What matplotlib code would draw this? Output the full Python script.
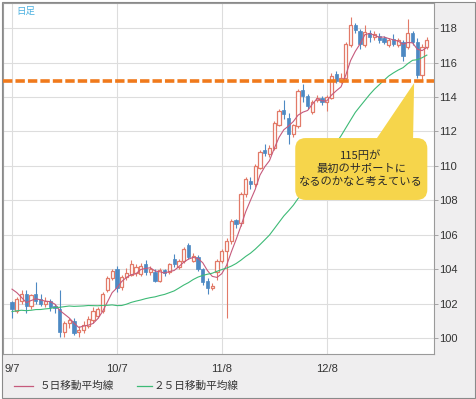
import numpy as np
import pandas as pd
import matplotlib
matplotlib.use('Agg')
import matplotlib.pyplot as plt
from matplotlib.patches import FancyBboxPatch, Polygon, Rectangle
from matplotlib.lines import Line2D

plt.rcParams['font.family'] = ['Liberation Sans', 'Noto Sans CJK JP', 'DejaVu Sans']

# daily USD/JPY candles, 9/7 .. early January
opens = [102.1, 101.6, 102.2, 102.6, 101.9, 102.6, 102.3, 102.0, 102.2, 101.9,
         101.7, 100.4, 100.9, 101.0, 100.35, 100.5, 100.75, 101.05, 101.3, 101.6,
         102.8, 103.5, 104.0, 103.0, 103.55, 103.7, 103.8, 103.75, 104.3, 103.85,
         103.85, 103.35, 103.95, 103.85, 104.6, 104.15, 104.5, 105.4, 104.5, 104.7,
         104.0, 103.35, 102.95, 103.85, 104.5, 105.1, 105.65, 106.85, 106.7, 108.35,
         109.15, 108.95, 109.9, 110.9, 110.7, 111.05, 112.4, 113.25, 112.8, 111.85,
         112.3, 114.4, 114.05, 113.15, 113.8, 113.95, 113.7, 113.95, 115.35, 114.9,
         115.1, 117.0, 118.15, 117.85, 117.0, 117.7, 117.5, 117.55, 117.4, 117.0,
         117.35, 117.0, 117.2, 116.9, 117.7, 117.2, 115.3, 116.9]
highs = [102.2, 102.4, 102.8, 102.8, 102.6, 103.3, 102.6, 102.4, 102.3, 102.0,
         102.8, 101.0, 101.2, 101.2, 100.7, 101.0, 101.3, 101.8, 101.8, 102.7,
         103.6, 104.0, 104.2, 103.7, 104.1, 104.55, 104.3, 104.4, 104.55, 104.2,
         104.0, 104.1, 104.05, 104.4, 104.9, 104.6, 105.3, 105.55, 104.95, 104.85,
         104.1, 103.5, 103.2, 104.6, 105.2, 105.8, 106.9, 106.95, 108.5, 109.35,
         109.35, 110.1, 110.95, 111.3, 111.2, 112.6, 113.3, 113.8, 113.1, 112.45,
         114.45, 114.75, 114.2, 113.8, 114.1, 114.05, 114.1, 115.4, 115.5, 115.4,
         117.2, 118.65, 118.3, 117.95, 118.15, 117.9, 117.85, 117.7, 117.55, 117.4,
         117.65, 117.4, 117.3, 118.55, 117.85, 117.4, 117.1, 117.45]
lows = [101.2, 101.5, 102.0, 101.5, 101.7, 102.0, 101.9, 101.8, 101.6, 101.5,
        100.1, 100.1, 100.6, 100.2, 100.1, 100.3, 100.6, 100.9, 101.2, 101.5,
        102.7, 103.4, 102.7, 102.8, 103.4, 103.6, 103.6, 103.6, 103.7, 103.7,
        103.25, 103.3, 103.65, 103.75, 104.15, 104.0, 104.4, 104.6, 104.45, 103.9,
        103.1, 102.55, 102.8, 103.4, 104.4, 101.2, 105.5, 106.4, 106.5, 108.2,
        108.65, 108.8, 109.8, 110.6, 110.55, 110.95, 112.3, 112.7, 111.3, 111.7,
        112.2, 113.7, 113.3, 113.0, 113.7, 113.55, 113.2, 113.9, 114.8, 114.8,
        115.0, 116.9, 117.7, 116.8, 116.9, 117.2, 117.3, 117.15, 117.1, 116.9,
        116.95, 116.9, 116.1, 116.8, 117.0, 115.1, 115.0, 116.8]
closes = [101.7, 102.3, 102.6, 101.9, 102.5, 102.2, 102.0, 102.2, 101.8, 101.75,
          100.4, 100.9, 101.1, 100.3, 100.5, 100.8, 101.15, 101.6, 101.7, 102.6,
          103.5, 103.9, 102.95, 103.55, 103.8, 104.3, 104.15, 104.2, 103.85, 104.0,
          103.35, 103.95, 103.8, 104.3, 104.3, 104.5, 105.2, 104.7, 104.8, 104.0,
          103.25, 102.9, 103.05, 104.5, 105.1, 105.65, 106.8, 106.65, 108.35, 109.25,
          108.95, 110.0, 110.8, 110.75, 111.05, 112.5, 113.2, 113.0, 111.85, 112.35,
          114.35, 114.05, 113.5, 113.7, 113.95, 113.7, 114.0, 115.2, 114.95, 115.1,
          117.1, 118.2, 117.9, 117.1, 117.75, 117.5, 117.65, 117.3, 117.2, 117.3,
          117.1, 117.3, 116.4, 117.7, 117.2, 115.25, 116.9, 117.3]
# closes before the first candle, needed for the moving averages
prior_closes = [101.2, 101.8, 102.5, 101.9, 101.2, 101.9, 101.3, 101.2, 100.2, 100.3,
                99.9, 100.2, 100.8, 100.2, 100.5, 100.5, 101.8, 101.9, 102.0, 103.4,
                103.3, 104.0, 103.4, 101.9]

tick_pos = [0, 22, 44, 66]
tick_labels = ['9/7', '10/7', '11/8', '12/8']
y_ticks = list(range(100, 120, 2))
support = 114.95

UP = '#e27a68'
DOWN = '#4d89c3'
MA5C = '#c65a7c'
MA25C = '#3dba76'
YEL = '#f6d54b'

W, H = 477, 399
fig = plt.figure(figsize=(W / 100, H / 100), dpi=100, facecolor='white')
fig.patches.append(Rectangle((1.5 / W, 1.5 / H), 474 / W, 396 / H, transform=fig.transFigure,
                             fc='#efeeef', ec='#8a8a8a', lw=0.8, zorder=-1))
ax = fig.add_axes([3 / W, 1 - 354 / H, 431 / W, 351 / H])
ax.set_facecolor('white')

x = np.arange(len(closes))
o = np.array(opens)
h = np.array(highs)
l = np.array(lows)
c = np.array(closes)
up = c >= o

# candles
ax.vlines(x[up], l[up], h[up], color=UP, lw=0.8, zorder=2)
ax.vlines(x[~up], l[~up], h[~up], color=DOWN, lw=0.8, zorder=2)
ax.bar(x[up], np.maximum(c - o, 0.04)[up], bottom=o[up], width=0.68,
       facecolor='white', edgecolor=UP, linewidth=0.9, zorder=3)
ax.bar(x[~up], np.maximum(o - c, 0.04)[~up], bottom=c[~up], width=0.68,
       facecolor=DOWN, edgecolor=DOWN, linewidth=0.5, zorder=3)

# moving averages
s = pd.Series(prior_closes + closes)
n0 = len(prior_closes)
ma5 = s.rolling(5).mean().iloc[n0:].to_numpy()
ma25 = s.rolling(25).mean().iloc[n0:].to_numpy()
ax.plot(x, ma5, color=MA5C, lw=0.8, zorder=4)
ax.plot(x, ma25, color=MA25C, lw=0.8, zorder=4)

# support line
ax.axhline(support, color='#f07a1c', lw=2.6, dashes=(2.6, 0.85), zorder=5)

# callout
ax.add_patch(FancyBboxPatch((59.4, 108.03), 27.7, 3.59, boxstyle='round,pad=0,rounding_size=2.2',
                            mutation_aspect=0.276, fc=YEL, ec='none', zorder=6))
ax.add_patch(Polygon([(76.0, 111.4), (84.1, 111.4), (84.33, 114.81)], closed=True,
                     fc=YEL, ec='none', zorder=6))
ax.text(73.2, 109.83, '115円が\n最初のサポートに\nなるのかなと考えている', ha='center', va='center',
        fontsize=8.1, linespacing=1.35, family=['Noto Sans CJK JP'], color='#2a2a2a', zorder=7)

ax.set_xlim(-1.89, 88.5)
ax.set_ylim(99.1, 119.45)
ax.yaxis.tick_right()
ax.set_yticks(y_ticks)
ax.set_xticks(tick_pos, tick_labels)
ax.tick_params(axis='y', length=3, width=0.6, color='#999999', pad=1, labelsize=8, labelcolor='#333333')
ax.tick_params(axis='x', length=0, pad=7, labelsize=8, labelcolor='#333333')
ax.grid(True, color='#dddddd', lw=0.8)
ax.set_axisbelow(True)
for sp in ax.spines.values():
    sp.set_color('#9a9a9a')
    sp.set_linewidth(0.8)

fig.text(16 / W, 1 - 11 / H, '日足', color='#4ab0e0', fontsize=6.8, family=['Noto Sans CJK JP'],
         ha='left', va='center')

# legend
ly = 1 - 386 / H
fig.add_artist(Line2D([14 / W, 33 / W], [ly, ly], color=MA5C, lw=0.9))
fig.text(40 / W, ly, '５日移動平均線', fontsize=7.7, family=['Noto Sans CJK JP'], color='#333333',
         ha='left', va='center')
fig.add_artist(Line2D([137 / W, 152 / W], [ly, ly], color=MA25C, lw=0.9))
fig.text(154 / W, ly, '２５日移動平均線', fontsize=7.7, family=['Noto Sans CJK JP'], color='#333333',
         ha='left', va='center')

fig.savefig('out.png', dpi=100)
